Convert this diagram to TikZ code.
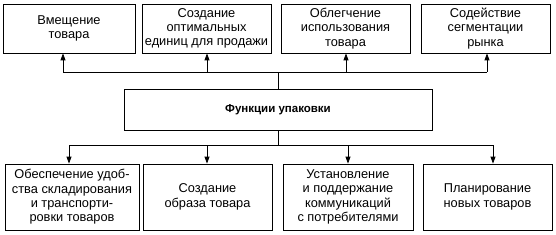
\documentclass[tikz,border=0pt]{standalone}
\usepackage{fontspec}
\setmainfont{Liberation Sans}
\usetikzlibrary{arrows.meta}
\begin{document}
\begin{tikzpicture}[x=1pt,y=-1pt,
  box/.style={draw, line width=0.8pt, inner sep=0pt, align=center,
    font=\fontsize{12.8}{14.3}\selectfont},
  conn/.style={line width=0.8pt},
  arr/.style={line width=0.8pt, -{Triangle[length=7pt,width=5pt]}}]
\useasboundingbox (0,0) rectangle (556,235);
% top boxes
\node[box, minimum width=132pt, minimum height=49pt] (t1) at (69,28.5) {Вмещение\\товара};
\node[box, minimum width=129pt, minimum height=49pt] (t2) at (206.5,28.5) {Создание\\оптимальных\\единиц для продажи};
\node[box, minimum width=129pt, minimum height=49pt] (t3) at (345.5,28.5) {Облегчение\\использования\\товара};
\node[box, minimum width=129pt, minimum height=49pt] (t4) at (485.5,28.5) {Содействие\\сегментации\\рынка};
% center
\node[box, minimum width=308pt, minimum height=41pt, font=\fontsize{11.5}{14}\selectfont\bfseries] (c) at (278,109.5) {Функции упаковки};
% bottom boxes
\node[box, minimum width=134pt, minimum height=66pt] (s1) at (72,197) {Обеспечение удоб-\\ства складирования\\и транспорти-\\ровки товаров};
\node[box, minimum width=129pt, minimum height=66pt] (s2) at (207.5,197) {Создание\\образа товара};
\node[box, minimum width=130pt, minimum height=66pt] (s3) at (348,197) {Установление\\и поддержание\\коммуникаций\\с потребителями};
\node[box, minimum width=129pt, minimum height=66pt] (s4) at (487.5,197) {Планирование\\новых товаров};
% upper bus
\coordinate (hu) at (278,72);
\coordinate (a1) at (63,72);
\coordinate (a2) at (207,72);
\coordinate (a3) at (346,72);
\coordinate (a4) at (487,72);
\draw[conn] (c.north -| hu) -- (hu);
\draw[conn] (a1) -- (a4);
\foreach \a/\t in {a1/t1,a2/t2,a3/t3,a4/t4}
  \draw[arr] (\a) -- (\a |- \t.south);
% lower bus
\coordinate (hd) at (278,145);
\coordinate (b1) at (69,145);
\coordinate (b2) at (207,145);
\coordinate (b3) at (348,145);
\coordinate (b4) at (493,145);
\draw[conn] (c.south -| hd) -- (hd);
\draw[conn] (b1) -- (b4);
\foreach \b/\s in {b1/s1,b2/s2,b3/s3,b4/s4}
  \draw[arr] (\b) -- (\b |- \s.north);
\end{tikzpicture}
\end{document}
